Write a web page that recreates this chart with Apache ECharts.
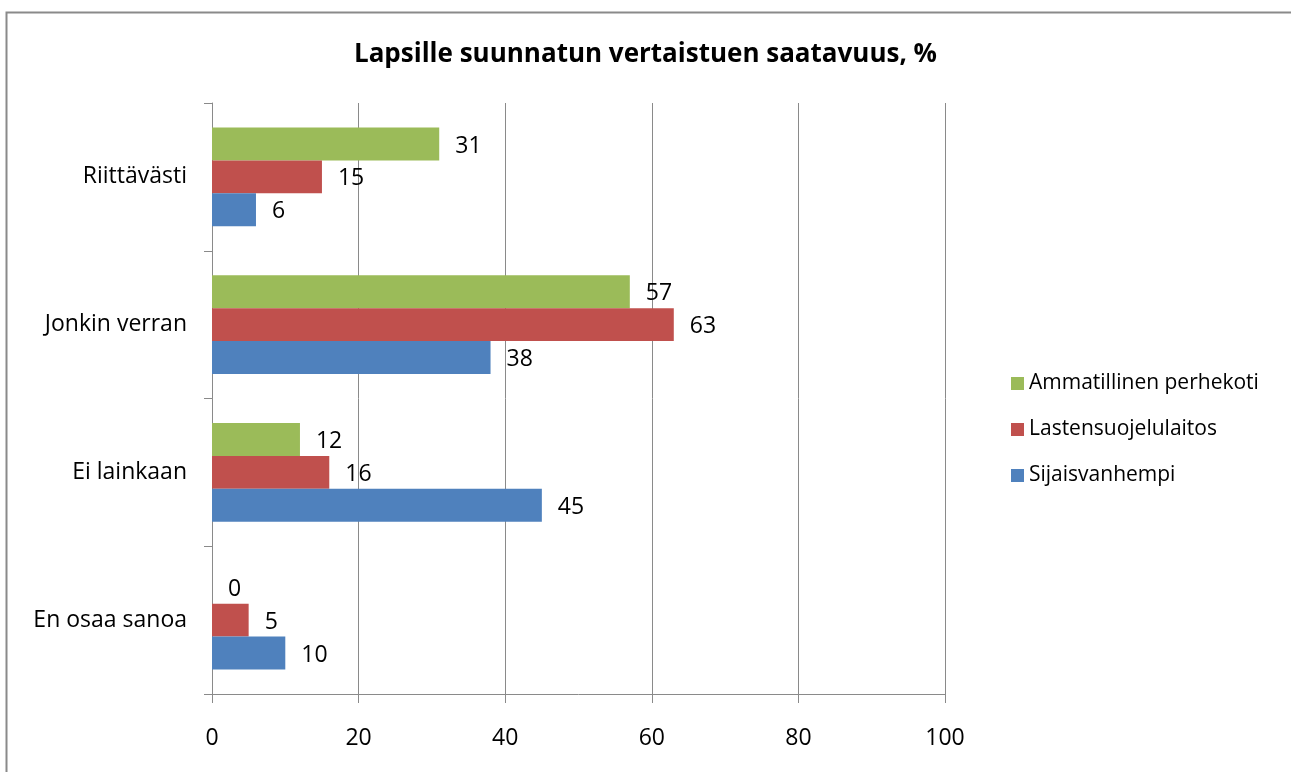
<!DOCTYPE html>
<html>
<head>
<meta charset="utf-8">
<script src="https://cdn.jsdelivr.net/npm/echarts@6/dist/echarts.min.js"></script>
<style>
html,body{margin:0;padding:0;background:#fff;}
#c{width:1291px;height:772px;}
</style>
</head>
<body>
<div id="c"></div>
<script>
const categories = ['En osaa sanoa', 'Ei lainkaan', 'Jonkin verran', 'Riittävästi'];
const ammatillinen = [0, 12, 57, 31];
const lastensuojelulaitos = [5, 16, 63, 15];
const sijaisvanhempi = [10, 45, 38, 6];
const seriesNames = ['Ammatillinen perhekoti', 'Lastensuojelulaitos', 'Sijaisvanhempi'];
const colors = ['#9BBB59', '#C0504D', '#4F81BD'];
const xTicks = [0, 20, 40, 60, 80, 100];

const FONT = "'Open Sans', sans-serif";
const chart = echarts.init(document.getElementById('c'));
const dataSets = [ammatillinen, lastensuojelulaitos, sijaisvanhempi];
chart.setOption({
  animation: false,
  textStyle: {fontFamily: FONT},
  title: {
    text: 'Lapsille suunnatun vertaistuen saatavuus, %',
    left: 'center', top: 37,
    textStyle: {fontFamily: FONT, fontSize: 26, fontWeight: 'bold', color: '#000'}
  },
  graphic: [{
    type: 'rect', left: 4, top: 10, silent: true,
    shape: {width: 1300, height: 800},
    style: {fill: 'none', stroke: '#8a8a8a', lineWidth: 2}
  }],
  legend: {
    orient: 'vertical', left: 1006, top: 368,
    data: seriesNames,
    itemWidth: 13, itemHeight: 13, itemGap: 25, icon: 'rect',
    textStyle: {fontFamily: FONT, fontSize: 21, color: '#000', padding: [0, 0, 0, 0]}
  },
  grid: {left: 212, right: 346, top: 103, bottom: 78, containLabel: false},
  xAxis: {
    type: 'value', min: 0, max: 100, interval: 20,
    axisLine: {show: true, lineStyle: {color: '#8a8a8a', width: 1}},
    axisTick: {show: true, length: 9, lineStyle: {color: '#8a8a8a'}},
    splitLine: {show: true, lineStyle: {color: '#8a8a8a', width: 1}},
    axisLabel: {fontFamily: FONT, fontSize: 23, color: '#000', margin: 33,
      formatter: v => xTicks.includes(v) ? String(v) : ''}
  },
  yAxis: {
    type: 'category', data: categories,
    axisLine: {show: true, lineStyle: {color: '#8a8a8a', width: 1}},
    axisTick: {show: true, length: 8, lineStyle: {color: '#8a8a8a'}},
    axisLabel: {fontFamily: FONT, fontSize: 23, color: '#000', margin: 25}
  },
  series: seriesNames.map((n, i) => ({
    name: n, type: 'bar', data: dataSets[i],
    barGap: '0%', barCategoryGap: '33.3%',
    itemStyle: {color: colors[i]},
    label: {show: true, position: 'right', distance: 16, offset: [0, 2], fontFamily: FONT,
      fontSize: 23, color: '#000'}
  }))
});
</script>
</body>
</html>
